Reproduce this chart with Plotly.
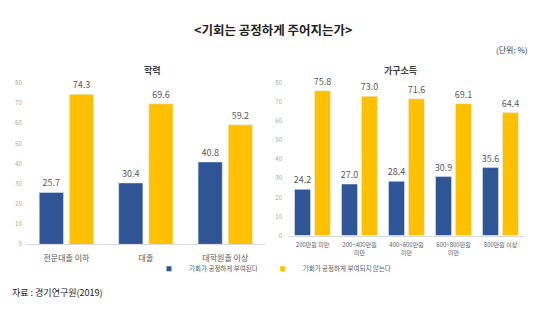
import plotly.graph_objects as go

# Education level panel
edu_cats = ["전문대졸 이하", "대졸", "대학원졸 이상"]
edu_fair = [25.7, 30.4, 40.8]
edu_unfair = [74.3, 69.6, 59.2]

# Household income panel
inc_cats = ["200만원 미만", "200~400만원<br>미만", "400~600만원<br>미만", "600~800만원<br>미만", "800만원 이상"]
inc_fair = [24.2, 27.0, 28.4, 30.9, 35.6]
inc_unfair = [75.8, 73.0, 71.6, 69.1, 64.4]

y_ticks = [0, 10, 20, 30, 40, 50, 60, 70, 80]

series_names = ["기회가 공정하게 부여된다", "기회가 공정하게 부여되지 않는다"]
BLUE = "#2F5597"
GOLD = "#FFC000"
FONT = "Noto Sans CJK KR"
W, H = 545, 332

fig = go.Figure()

def add_pair(cats, fair, unfair, xa, ya, width, gap, text_size):
    total = 2 * width + gap
    for vals, color, off in ((fair, BLUE, -total / 2), (unfair, GOLD, -total / 2 + width + gap)):
        fig.add_trace(go.Bar(x=cats, y=vals, marker_color=color, width=width, offset=off,
                             xaxis=xa, yaxis=ya, showlegend=False,
                             text=[f"{v:.1f}" for v in vals], textposition="outside",
                             constraintext="none",
                             textfont=dict(size=text_size, color="#595959", family=FONT),
                             cliponaxis=False))

add_pair(edu_cats, edu_fair, edu_unfair, "x", "y", 0.305, 0.075, 9)
add_pair(inc_cats, inc_fair, inc_unfair, "x2", "y2", 0.34, 0.085, 9)

# Legend entries drawn as small squares
for name, color in zip(series_names, (BLUE, GOLD)):
    fig.add_trace(go.Scatter(x=[None], y=[None], mode="markers", name=name,
                             marker=dict(symbol="square", size=5, color=color),
                             xaxis="x", yaxis="y", showlegend=True))

axis_common = dict(showgrid=False, zeroline=False)
fig.update_layout(
    width=W, height=H,
    margin=dict(l=0, r=0, t=0, b=0),
    paper_bgcolor="white", plot_bgcolor="white",
    barmode="overlay",
    font=dict(family=FONT, color="#595959"),
    xaxis=dict(domain=[26.75 / W, 265 / W], anchor="y", showline=True, linecolor="#D9D9D9",
               linewidth=1, ticks="", tickfont=dict(size=8, color="#595959"),
               ticklabelstandoff=6, **axis_common),
    yaxis=dict(domain=[1 - 246 / H, 1 - 80 / H], range=[0, 80], tickvals=y_ticks,
               showline=False, tickfont=dict(size=6, color="#A6A6A6"), ticklabelstandoff=4,
               **axis_common),
    xaxis2=dict(domain=[289 / W, 524 / W], anchor="y2", showline=True, linecolor="#D9D9D9",
                linewidth=1, ticks="", tickfont=dict(size=6, color="#595959"),
                ticklabelstandoff=3, **axis_common),
    yaxis2=dict(domain=[1 - 237 / H, 1 - 80 / H], range=[0, 80], tickvals=y_ticks, anchor="x2",
                showline=False, tickfont=dict(size=6, color="#A6A6A6"), ticklabelstandoff=6,
                **axis_common),
    legend=dict(orientation="h", x=0.5, xanchor="center", y=1 - 271 / H, yanchor="middle",
                font=dict(size=6.5, color="#595959"), itemwidth=30, tracegroupgap=0,
                bgcolor="rgba(0,0,0,0)"),
)

annotations = [
    dict(text="<b><기회는 공정하게 주어지는가></b>", x=273 / W, y=1 - 25 / H,
         font=dict(size=12.5, color="#222222")),
    dict(text="(단위: %)", x=530 / W, y=1 - 46 / H, xanchor="right",
         font=dict(size=8, color="#333333")),
    dict(text="<b>학력</b>", x=152 / W, y=1 - 67 / H, font=dict(size=9, color="#404040")),
    dict(text="<b>가구소득</b>", x=400 / W, y=1 - 67 / H, font=dict(size=9, color="#404040")),
    dict(text="자료 : 경기연구원(2019)", x=10 / W, y=1 - 295 / H, xanchor="left",
         font=dict(size=9, color="#222222")),
]
for a in annotations:
    a.update(xref="paper", yref="paper", showarrow=False)
    a.setdefault("xanchor", "center")
    a["yanchor"] = "middle"
fig.update_layout(annotations=annotations)

fig.write_html("out.html")
